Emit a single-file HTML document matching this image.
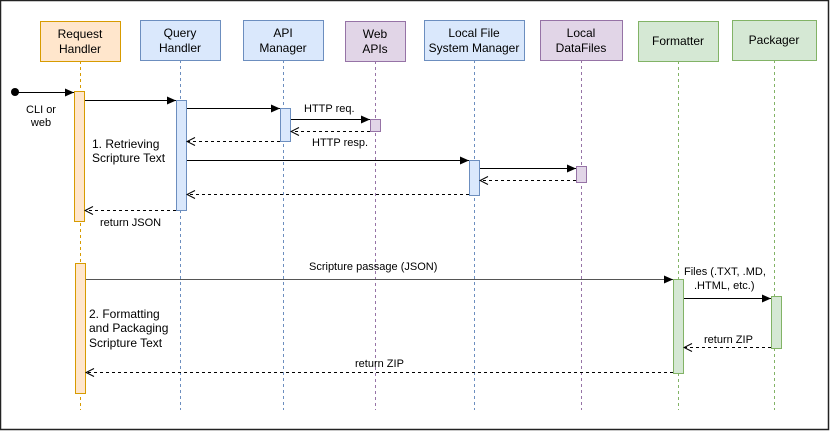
<!DOCTYPE html>
<html><head><meta charset="utf-8"><style>html,body{margin:0;padding:0;background:#fff}svg{display:block}text{font-family:"Liberation Sans",Arial,sans-serif;font-size:12px;fill:#000}.s{font-size:11px}</style></head><body>
<svg width="831" height="431" viewBox="0 0 831 431" xmlns="http://www.w3.org/2000/svg">
<defs>
<marker id="f" markerWidth="10" markerHeight="10" refX="9" refY="5" orient="auto" markerUnits="userSpaceOnUse"><path d="M0,1 L9,5 L0,9 Z" fill="#000"/></marker>
<marker id="o" markerWidth="10" markerHeight="10" refX="9" refY="5" orient="auto" markerUnits="userSpaceOnUse"><path d="M1,1 L9,5 L1,9" fill="none" stroke="#000"/></marker>
</defs>
<rect x="0.5" y="0.5" width="828" height="429" fill="#fff" stroke="#222" stroke-width="1.5"/>
<g stroke-dasharray="3,3" stroke-width="1">
<line x1="80.5" y1="61" x2="80.5" y2="410" stroke="#d79b00"/>
<line x1="180.5" y1="60" x2="180.5" y2="410" stroke="#6c8ebf"/>
<line x1="283.5" y1="60" x2="283.5" y2="410" stroke="#6c8ebf"/>
<line x1="375.5" y1="61" x2="375.5" y2="410" stroke="#9673a6"/>
<line x1="474.5" y1="60" x2="474.5" y2="410" stroke="#6c8ebf"/>
<line x1="581.5" y1="60" x2="581.5" y2="410" stroke="#9673a6"/>
<line x1="678.5" y1="61" x2="678.5" y2="410" stroke="#82b366"/>
<line x1="774.5" y1="60" x2="774.5" y2="410" stroke="#82b366"/>
</g>
<rect x="40.5" y="21.5" width="80" height="40" fill="#ffe6cc" stroke="#d79b00"/>
<rect x="140.5" y="20.5" width="80" height="40" fill="#dae8fc" stroke="#6c8ebf"/>
<rect x="243.5" y="20.5" width="80" height="40" fill="#dae8fc" stroke="#6c8ebf"/>
<rect x="345.5" y="21.5" width="60" height="40" fill="#e1d5e7" stroke="#9673a6"/>
<rect x="424.5" y="20.5" width="100" height="40" fill="#dae8fc" stroke="#6c8ebf"/>
<rect x="540.5" y="20.5" width="82" height="40" fill="#e1d5e7" stroke="#9673a6"/>
<rect x="638.5" y="21.5" width="80" height="40" fill="#d5e8d4" stroke="#82b366"/>
<rect x="732.5" y="20.5" width="84" height="40" fill="#d5e8d4" stroke="#82b366"/>
<g text-anchor="middle">
<text x="80" y="38">Request</text><text x="80" y="53">Handler</text>
<text x="180" y="37">Query</text><text x="180" y="52">Handler</text>
<text x="283" y="37">API</text><text x="283" y="52">Manager</text>
<text x="375" y="38">Web</text><text x="375" y="53">APIs</text>
<text x="474" y="37">Local File</text><text x="474" y="52">System Manager</text>
<text x="581" y="37">Local</text><text x="581" y="52">DataFiles</text>
<text x="678" y="45">Formatter</text>
<text x="774" y="44">Packager</text>
</g>
<rect x="74.5" y="91.5" width="10" height="130" fill="#ffe6cc" stroke="#d79b00"/>
<rect x="176.5" y="100.5" width="10" height="110" fill="#dae8fc" stroke="#6c8ebf"/>
<rect x="280.5" y="108.5" width="10" height="33" fill="#dae8fc" stroke="#6c8ebf"/>
<rect x="370.5" y="119.5" width="10" height="12" fill="#e1d5e7" stroke="#9673a6"/>
<rect x="469.5" y="160.5" width="10" height="35" fill="#dae8fc" stroke="#6c8ebf"/>
<rect x="576.5" y="166.5" width="10" height="16" fill="#e1d5e7" stroke="#9673a6"/>
<rect x="75.5" y="263.5" width="10" height="130" fill="#ffe6cc" stroke="#d79b00"/>
<rect x="673.5" y="279.5" width="10" height="94" fill="#d5e8d4" stroke="#82b366"/>
<rect x="771.5" y="296.5" width="10" height="52" fill="#d5e8d4" stroke="#82b366"/>
<circle cx="15" cy="92" r="4" fill="#000"/>
<g stroke="#000" stroke-width="1" fill="none">
<line x1="15" y1="92.5" x2="74" y2="92.5" marker-end="url(#f)"/>
<line x1="85" y1="100.5" x2="176" y2="100.5" marker-end="url(#f)"/>
<line x1="187" y1="108.5" x2="280" y2="108.5" marker-end="url(#f)"/>
<line x1="291" y1="119.5" x2="370" y2="119.5" marker-end="url(#f)"/>
<line x1="187" y1="160.5" x2="469" y2="160.5" marker-end="url(#f)"/>
<line x1="480" y1="168.5" x2="576" y2="168.5" marker-end="url(#f)"/>
<line x1="86" y1="279.5" x2="673" y2="279.5" stroke="#555" marker-end="url(#f)"/>
<line x1="684" y1="298.5" x2="771" y2="298.5" marker-end="url(#f)"/>
<g stroke-dasharray="3,3">
<line x1="370" y1="131.5" x2="291" y2="131.5" marker-end="url(#o)"/>
<line x1="280" y1="141.5" x2="187" y2="141.5" marker-end="url(#o)"/>
<line x1="576" y1="180.5" x2="480" y2="180.5" marker-end="url(#o)"/>
<line x1="469" y1="194.5" x2="187" y2="194.5" marker-end="url(#o)"/>
<line x1="176" y1="210.5" x2="85" y2="210.5" marker-end="url(#o)"/>
<line x1="771" y1="347.5" x2="684" y2="347.5" marker-end="url(#o)"/>
<line x1="673" y1="372.5" x2="86" y2="372.5" marker-end="url(#o)"/>
</g></g>
<g class="s">
<text x="41" y="113" text-anchor="middle" class="s">CLI or</text><text x="41" y="126" text-anchor="middle" class="s">web</text>
<text x="304" y="112" class="s">HTTP req.</text>
<text x="312" y="146" class="s">HTTP resp.</text>
<text x="100" y="226" class="s">return JSON</text>
<text x="309" y="270" class="s">Scripture passage (JSON)</text>
<text x="684" y="275" class="s">Files (.TXT, .MD,</text>
<text x="694" y="289" class="s">.HTML, etc.)</text>
<text x="704" y="343" class="s">return ZIP</text>
<text x="355" y="367" class="s">return ZIP</text>
</g>
<text x="92" y="148">1. Retrieving</text><text x="92" y="162">Scripture Text</text>
<text x="89" y="318">2. Formatting</text><text x="89" y="332">and Packaging</text><text x="89" y="347">Scripture Text</text>
</svg>
</body></html>
